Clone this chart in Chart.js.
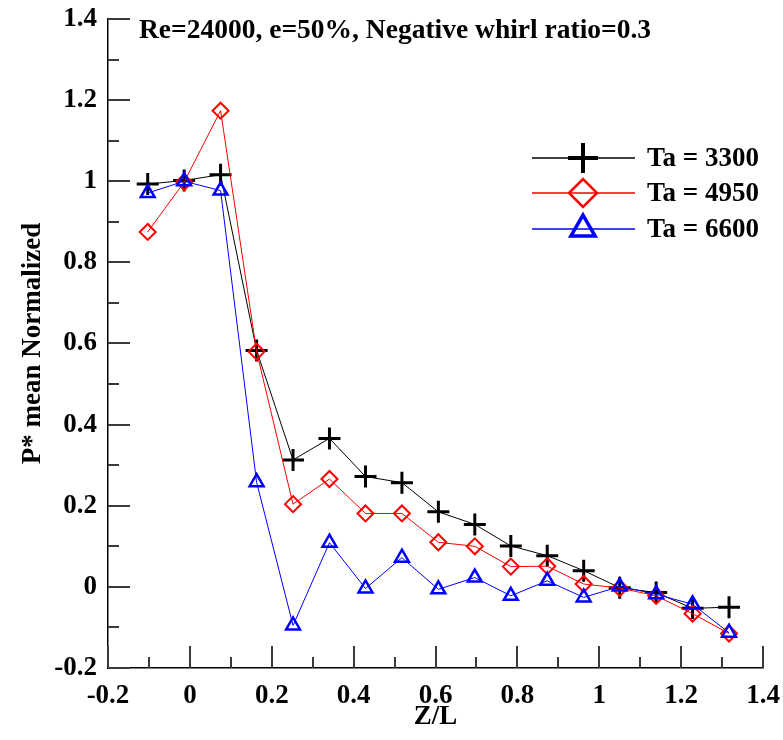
<!DOCTYPE html>
<html>
<head>
<meta charset="utf-8">
<script src="https://cdn.jsdelivr.net/npm/chart.js@4/dist/chart.umd.min.js"></script>
<style>
  html, body { margin: 0; padding: 0; background: #fff; }
  #wrap { width: 783px; height: 740px; }
</style>
</head>
<body>
<div id="wrap"><canvas id="c" width="783" height="740"></canvas></div>
<script>
// Axial stations Z/L
const zl = [-0.103, -0.014, 0.075, 0.163, 0.252, 0.341, 0.429, 0.518, 0.607, 0.696, 0.784, 0.873, 0.962, 1.050, 1.139, 1.228, 1.317];

// Normalized mean pressure for each Taylor number
const ta3300 = [0.993, 1.002, 1.016, 0.583, 0.313, 0.366, 0.272, 0.257, 0.185, 0.154, 0.101, 0.077, 0.040, -0.002, -0.014, -0.053, -0.050];
const ta4950 = [0.875, 0.998, 1.174, 0.580, 0.204, 0.266, 0.181, 0.181, 0.110, 0.100, 0.050, 0.051, 0.007, -0.003, -0.022, -0.066, -0.115];
const ta6600 = [0.971, 1.000, 0.977, 0.258, -0.095, 0.109, -0.004, 0.072, -0.006, 0.023, -0.022, 0.015, -0.026, 0.001, -0.018, -0.043, -0.113];

const seriesLabels = ['Ta = 3300', 'Ta = 4950', 'Ta = 6600'];
const titleText = 'Re=24000, e=50%, Negative whirl ratio=0.3';
const xTitle = 'Z/L';
const yTitle = 'P* mean Normalized';

const FONT = '"Liberation Serif", "Times New Roman", serif';

function pts(ys) { return zl.map((x, i) => ({ x: x, y: ys[i] })); }

function tickFmt(v) {
  const r = Math.round(v * 10);
  if (r % 2 !== 0) return '';
  return String(Number((r / 10).toFixed(1)));
}

const styles = [
  { color: '#000000', pointStyle: 'cross',    r: 11, lw: 3,   lr: 15, llw: 4 },
  { color: '#ff0000', pointStyle: 'rectRot',  r: 8,  lw: 2,   lr: 14, llw: 2.5 },
  { color: '#0000ff', pointStyle: 'triangle', r: 8,  lw: 2.5, lr: 14, llw: 3.5 }
];

// Inward tick marks along both axes
const axisTicks = {
  id: 'axisTicks',
  afterDatasetsDraw(chart) {
    const ctx = chart.ctx;
    const xs = chart.scales.x, ys = chart.scales.y;
    const left = xs.left, bottom = ys.bottom;
    ctx.save();
    ctx.setLineDash([]);
    ctx.strokeStyle = '#3a3a3a';
    ctx.lineWidth = 2;
    ctx.beginPath();
    for (let k = -2; k <= 14; k++) {
      const len = (k % 2 === 0) ? 22 : 11;
      const px = Math.round(xs.getPixelForValue(k / 10));
      ctx.moveTo(px, bottom);
      ctx.lineTo(px, bottom - len);
      const py = Math.round(ys.getPixelForValue(k / 10));
      ctx.moveTo(left, py);
      ctx.lineTo(left + len, py);
    }
    ctx.stroke();
    ctx.restore();
  }
};

// In-plot title and legend
const decorations = {
  id: 'decorations',
  afterDraw(chart) {
    const ctx = chart.ctx;
    ctx.save();
    ctx.fillStyle = '#000';
    ctx.font = 'bold 27.5px ' + FONT;
    ctx.textAlign = 'left';
    ctx.textBaseline = 'middle';
    ctx.fillText(titleText, 139, 31);

    const rows = [158, 193, 229];
    const x0 = 532, x1 = 635, xm = 583;
    rows.forEach((y, i) => {
      const s = styles[i];
      ctx.beginPath();
      ctx.strokeStyle = s.color;
      ctx.lineWidth = 1.5;
      ctx.moveTo(x0, y);
      ctx.lineTo(x1, y);
      ctx.stroke();
      ctx.strokeStyle = s.color;
      ctx.lineWidth = s.llw;
      ctx.fillStyle = 'rgba(255,255,255,0)';
      Chart.helpers.drawPoint(ctx, { pointStyle: s.pointStyle, radius: s.lr, rotation: 0, borderWidth: s.llw }, xm, y);
      ctx.fillStyle = '#000';
      ctx.font = 'bold 27px ' + FONT;
      ctx.textAlign = 'left';
      ctx.textBaseline = 'middle';
      ctx.fillText(seriesLabels[i], 647, y + 1);
    });
    ctx.restore();
  }
};

const datasets = [ta3300, ta4950, ta6600].map((ys, i) => ({
  label: seriesLabels[i],
  data: pts(ys),
  showLine: true,
  borderColor: styles[i].color,
  borderWidth: 1,
  backgroundColor: 'rgba(255,255,255,0)',
  pointStyle: styles[i].pointStyle,
  pointRadius: styles[i].r,
  pointHoverRadius: styles[i].r,
  pointBorderWidth: styles[i].lw,
  pointBorderColor: styles[i].color,
  pointBackgroundColor: 'rgba(255,255,255,0)',
  order: 2 - i,
  tension: 0
}));

new Chart(document.getElementById('c'), {
  type: 'scatter',
  data: { datasets },
  plugins: [axisTicks, decorations],
  options: {
    responsive: false,
    animation: false,
    clip: false,
    layout: { padding: { top: 19, right: 20, left: 0, bottom: 0 } },
    plugins: { legend: { display: false }, tooltip: { enabled: false }, title: { display: false } },
    scales: {
      x: {
        type: 'linear', min: -0.2, max: 1.4,
        afterFit(s) { s.height = 72; s.paddingLeft = 0; s.paddingRight = 0; },
        grid: { display: false, drawTicks: false },
        border: { display: true, color: '#000', width: 1.5 },
        ticks: { stepSize: 0.1, autoSkip: false, maxRotation: 0, padding: 12, color: '#000',
                 font: { family: FONT, size: 27, weight: 'bold' }, callback: tickFmt },
        title: { display: true, text: xTitle, color: '#000', padding: { top: 0, bottom: 7 },
                 font: { family: FONT, size: 27, weight: 'bold' } }
      },
      y: {
        type: 'linear', min: -0.2, max: 1.4,
        afterFit(s) { s.width = 108; s.paddingTop = 0; s.paddingBottom = 0; },
        grid: { display: false, drawTicks: false },
        border: { display: true, color: '#000', width: 1.5 },
        ticks: { stepSize: 0.1, autoSkip: false, padding: 11, color: '#000',
                 font: { family: FONT, size: 27, weight: 'bold' }, callback: tickFmt },
        title: { display: true, text: yTitle, color: '#000', padding: { top: 17, bottom: 0 },
                 font: { family: FONT, size: 27, weight: 'bold' } }
      }
    }
  }
});
</script>
</body>
</html>
